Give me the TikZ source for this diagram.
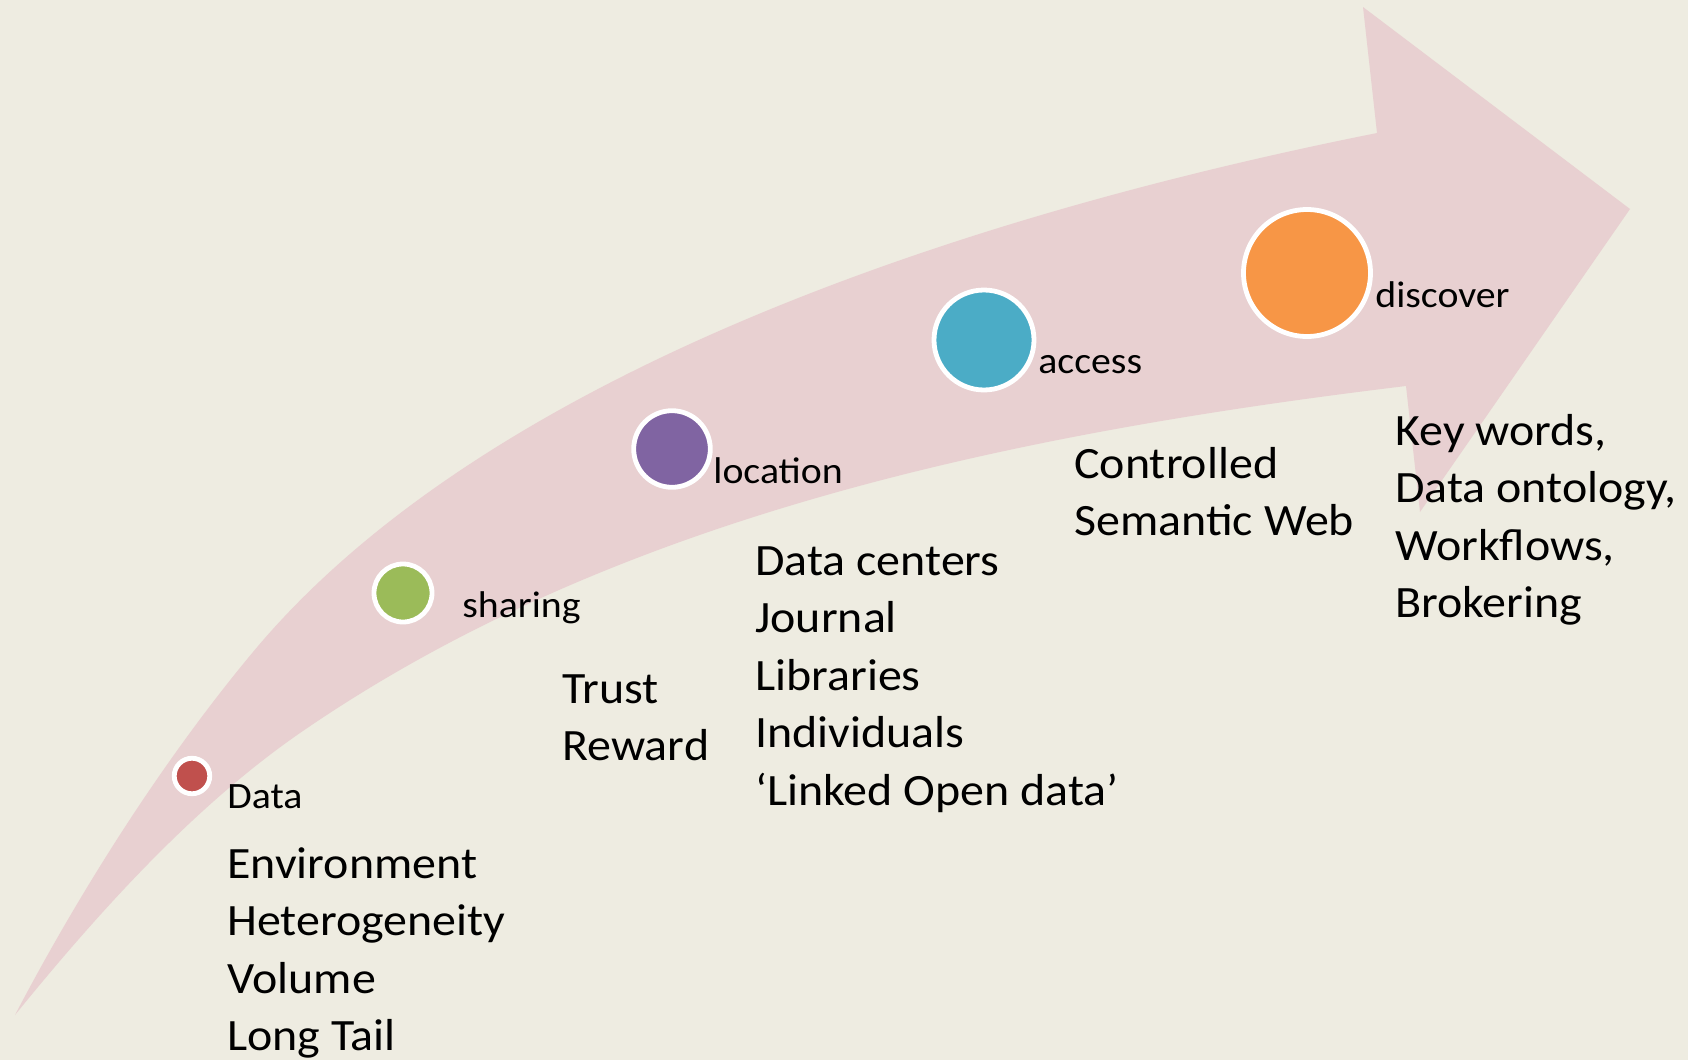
\documentclass[tikz,border=0pt]{standalone}
\usepackage{fontspec}
\setmainfont{Carlito}[FakeStretch=1.07]
\definecolor{bgcol}{HTML}{EEECE1}
\definecolor{arrowcol}{HTML}{E8D0D1}
\definecolor{cred}{HTML}{C0504D}
\definecolor{cgreen}{HTML}{9BBB59}
\definecolor{cpurple}{HTML}{8064A2}
\definecolor{cblue}{HTML}{4BACC6}
\definecolor{corange}{HTML}{F79646}
\tikzset{
  big/.style={anchor=base west, inner sep=0pt, font=\fontsize{22.4}{28}\selectfont, text=black},
  small/.style={anchor=base west, inner sep=0pt, font=\fontsize{18.6}{22}\selectfont, text=black},
  dot/.style={circle, draw=white, line width=2.4pt, inner sep=0pt, minimum size=#1},
}
\begin{document}
\begin{tikzpicture}[x=0.5pt, y=-0.5pt]
\fill[bgcol] (0,0) rectangle (1688,1060);
\useasboundingbox (0,0) rectangle (1688,1060);
% curved arrow
\fill[arrowcol] (15,1015) .. controls (80,891) and (163,760) .. (253,652)
  .. controls (477,383) and (936,221) .. (1377,133)
  -- (1363,7) -- (1630,209) -- (1420,512) -- (1406,386)
  .. controls (1009,434) and (613,517) .. (300,733)
  .. controls (193,807) and (97,914) .. (15,1015) -- cycle;
% circles
\node[dot=17.75pt, fill=cred] (c1) at (192,776) {};
\node[dot=29pt, fill=cgreen] (c2) at (403,593) {};
\node[dot=38.3pt, fill=cpurple] (c3) at (672,449) {};
\node[dot=50pt, fill=cblue] (c4) at (984,340) {};
\node[dot=63.5pt, fill=corange] (c5) at (1307,273) {};
% labels
\node[small] (l1) at (227,808) {Data};
\node[small] (l2) at (462,617) {sharing};
\node[small] (l3) at (713,483) {location};
\node[small] (l4) at (1038,373) {access};
\node[small] (l5) at (1375,307) {discover};
% text blocks
\node[big] (e1) at (227,878) {Environment};
\node[big] (e2) at (227,935) {Heterogeneity};
\node[big] (e3) at (227,993) {Volume};
\node[big] (e4) at (227,1050) {Long Tail};
\node[big] (t1) at (562,703) {Trust};
\node[big] (t2) at (562,760) {Reward};
\node[big] (d1) at (755,575) {Data centers};
\node[big] (d2) at (755,632) {Journal};
\node[big] (d3) at (755,690) {Libraries};
\node[big] (d4) at (755,747) {Individuals};
\node[big] (d5) at (755,805) {‘Linked Open data’};
\node[big] (s1) at (1074,478) {Controlled};
\node[big] (s2) at (1074,535) {Semantic Web};
\node[big] (k1) at (1395,445) {Key words,};
\node[big] (k2) at (1395,502) {Data ontology,};
\node[big] (k3) at (1395,560) {Workflows,};
\node[big] (k4) at (1395,617) {Brokering};
\end{tikzpicture}
\end{document}
